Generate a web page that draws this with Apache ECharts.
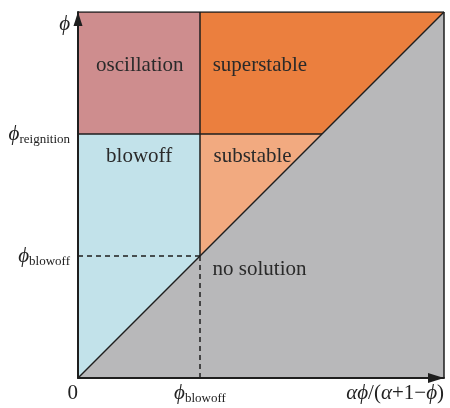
<!DOCTYPE html>
<html>
<head>
<meta charset="utf-8">
<script src="https://cdn.jsdelivr.net/npm/echarts@6/dist/echarts.min.js"></script>
<style>html,body{margin:0;padding:0;background:#fff;}#c{width:450px;height:408px;}</style>
</head>
<body>
<div id="c"></div>
<script>
// thresholds (fractions of the axis range)
const phiBlowoff = 1 / 3;
const phiReignition = 2 / 3;
const axisMax = 1;

const regionNames = ['oscillation', 'superstable', 'blowoff', 'substable', 'no solution'];
// region label anchors [x, y] in data units
const regionLabelX = [0.169, 0.497, 0.167, 0.477, 0.496];
const regionLabelY = [0.853, 0.853, 0.604, 0.604, 0.296];

const xTickValues = [0, phiBlowoff, axisMax];
const xTickLabels = ['0', 'ϕ_blowoff', 'αϕ/(α+1−ϕ)'];
const yTickValues = [phiBlowoff, phiReignition, axisMax];
const yTickLabels = ['ϕ_blowoff', 'ϕ_reignition', 'ϕ'];

const regionColors = ['#CE8D8E', '#EB7F3E', '#C2E2EA', '#F2AA80', '#B8B8BA'];

const regionPolygons = [
  [[0, phiReignition], [phiBlowoff, phiReignition], [phiBlowoff, axisMax], [0, axisMax]],
  [[phiBlowoff, phiReignition], [phiReignition, phiReignition], [axisMax, axisMax], [phiBlowoff, axisMax]],
  [[0, 0], [phiBlowoff, phiBlowoff], [phiBlowoff, phiReignition], [0, phiReignition]],
  [[phiBlowoff, phiBlowoff], [phiReignition, phiReignition], [phiBlowoff, phiReignition]],
  [[0, 0], [axisMax, axisMax], [axisMax, 0]]
];

const solidSegments = [
  [[0, 0], [axisMax, axisMax]],
  [[0, phiReignition], [phiReignition, phiReignition]],
  [[phiBlowoff, phiBlowoff], [phiBlowoff, axisMax]],
  [[0, axisMax], [axisMax, axisMax]],
  [[axisMax, 0], [axisMax, axisMax]]
];
const dashedSegments = [
  [[0, phiBlowoff], [phiBlowoff, phiBlowoff]],
  [[phiBlowoff, 0], [phiBlowoff, phiBlowoff]]
];

const FONT = '"Liberation Serif", "Times New Roman", serif';
const rich = {
  m: {fontFamily: FONT, fontSize: 21, fontStyle: 'italic', color: '#222', lineHeight: 24},
  r: {fontFamily: FONT, fontSize: 21, color: '#222', lineHeight: 24},
  s: {fontFamily: FONT, fontSize: 13, color: '#222', lineHeight: 12, verticalAlign: 'bottom'}
};
function fmt(label) {
  if (label === '0') return '{r|0}';
  if (label.indexOf('ϕ_') === 0) return '{m|ϕ}{s|' + label.slice(2) + '}';
  if (label === 'ϕ') return '{m|ϕ}';
  // αϕ/(α+1−ϕ)
  return '{m|αϕ}{r|/(}{m|α}{r|+1−}{m|ϕ}{r|)}';
}
function labelFor(values, labels, v) {
  for (let i = 0; i < values.length; i++) if (Math.abs(values[i] - v) < 1e-6) return fmt(labels[i]);
  return '';
}

const lineSeries = [];
solidSegments.forEach(seg => lineSeries.push({
  type: 'line', data: seg, showSymbol: false, symbol: 'none', silent: true, z: 5,
  lineStyle: {color: '#1e1e1e', width: 1.5}
}));
dashedSegments.forEach(seg => lineSeries.push({
  type: 'line', data: seg, showSymbol: false, symbol: 'none', silent: true, z: 5,
  lineStyle: {color: '#1e1e1e', width: 1.5, type: [5, 4]}
}));

const chart = echarts.init(document.getElementById('c'), null, {renderer: 'canvas'});
chart.setOption({
  animation: false,
  grid: {left: 78, top: 12, width: 366, height: 366},
  xAxis: {
    type: 'value', min: 0, max: axisMax, z: 10,
    splitLine: {show: false},
    axisTick: {show: false},
    axisLine: {show: true, symbol: ['none', 'triangle'], symbolSize: [10, 16], symbolOffset: [0, -8],
      lineStyle: {color: '#1e1e1e', width: 2}},
    axisLabel: {
      customValues: xTickValues, margin: 3, rich: rich,
      alignMinLabel: 'right', alignMaxLabel: 'right',
      formatter: v => labelFor(xTickValues, xTickLabels, v)
    }
  },
  yAxis: {
    type: 'value', min: 0, max: axisMax, z: 10,
    splitLine: {show: false},
    axisTick: {show: false},
    axisLine: {show: true, symbol: ['none', 'triangle'], symbolSize: [9, 14], symbolOffset: [0, -7],
      lineStyle: {color: '#1e1e1e', width: 2}},
    axisLabel: {
      customValues: yTickValues, margin: 8, rich: rich,
      verticalAlignMaxLabel: 'top',
      formatter: v => labelFor(yTickValues, yTickLabels, v)
    }
  },
  series: [
    {
      type: 'custom', silent: true, z: 1,
      data: regionPolygons.map((p, i) => [i]),
      renderItem: (params, api) => {
        const idx = api.value(0);
        return {type: 'polygon', shape: {points: regionPolygons[idx].map(p => api.coord(p))},
          style: {fill: regionColors[idx], stroke: null}};
      }
    },
    ...lineSeries,
    {
      type: 'custom', silent: true, z: 6,
      data: regionNames.map((n, i) => [regionLabelX[i], regionLabelY[i], i]),
      renderItem: (params, api) => {
        const pt = api.coord([api.value(0), api.value(1)]);
        return {type: 'text', x: pt[0], y: pt[1],
          style: {text: regionNames[api.value(2)], fontFamily: FONT, fontSize: 21, fill: '#2a2a2a',
            align: 'center', verticalAlign: 'middle'}};
      }
    }
  ]
});
</script>
</body>
</html>
